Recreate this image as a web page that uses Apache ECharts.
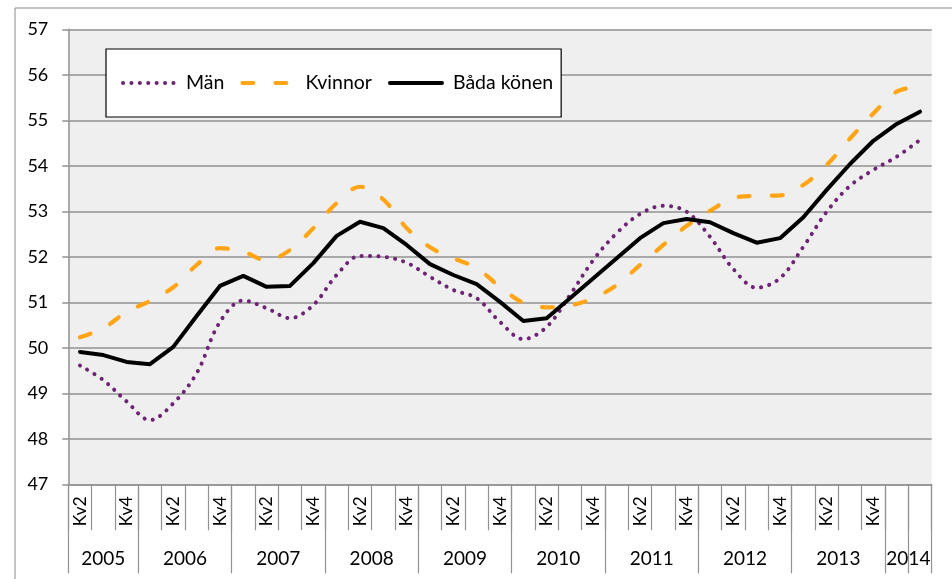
<!DOCTYPE html>
<html>
<head>
<meta charset="utf-8">
<script src="https://cdn.jsdelivr.net/npm/echarts@6/dist/echarts.min.js"></script>
<style>
html,body{margin:0;padding:0;background:#fff;}
#chart{width:952px;height:579px;}
</style>
</head>
<body>
<div id="chart"></div>
<script>
const categories = [
  '2005 Kv2','2005 Kv3','2005 Kv4',
  '2006 Kv1','2006 Kv2','2006 Kv3','2006 Kv4',
  '2007 Kv1','2007 Kv2','2007 Kv3','2007 Kv4',
  '2008 Kv1','2008 Kv2','2008 Kv3','2008 Kv4',
  '2009 Kv1','2009 Kv2','2009 Kv3','2009 Kv4',
  '2010 Kv1','2010 Kv2','2010 Kv3','2010 Kv4',
  '2011 Kv1','2011 Kv2','2011 Kv3','2011 Kv4',
  '2012 Kv1','2012 Kv2','2012 Kv3','2012 Kv4',
  '2013 Kv1','2013 Kv2','2013 Kv3','2013 Kv4',
  '2014 Kv1','2014 Kv2'
];
const shownQuarterLabels = ['Kv2','Kv4'];
const years = ['2005','2006','2007','2008','2009','2010','2011','2012','2013','2014'];
const yearQuarterCounts = [3,4,4,4,4,4,4,4,4,2];
const yTicks = [47,48,49,50,51,52,53,54,55,56,57];

const man = [49.61,49.29,48.82,48.41,48.78,49.44,50.57,51.04,50.87,50.65,
  50.94,51.60,52.02,52.00,51.87,51.56,51.27,51.09,50.57,50.19,
  50.46,51.16,51.93,52.52,52.94,53.12,52.99,52.44,51.73,51.32,
  51.53,52.22,52.99,53.56,53.91,54.20,54.57];
const kvinnor = [50.23,50.43,50.79,51.03,51.33,51.82,52.19,52.11,51.92,52.15,
  52.63,53.18,53.54,53.26,52.63,52.21,51.97,51.75,51.34,50.99,
  50.89,50.93,51.09,51.38,51.82,52.26,52.68,53.01,53.29,53.34,
  53.35,53.58,54.02,54.60,55.15,55.63,55.74];
const bada = [49.91,49.84,49.69,49.64,50.02,50.70,51.36,51.58,51.34,51.36,
  51.86,52.46,52.77,52.63,52.26,51.84,51.60,51.40,51.01,50.59,
  50.65,51.09,51.53,51.97,52.41,52.74,52.83,52.76,52.52,52.31,
  52.41,52.87,53.47,54.04,54.55,54.92,55.19];

// year boundaries and centres (in category units) for the year axis
const yearBounds = [0];
const yearCentres = [];
yearQuarterCounts.forEach((c) => {
  const start = yearBounds[yearBounds.length - 1];
  yearCentres.push(start + c / 2);
  yearBounds.push(start + c);
});
const yearTickValues = yearBounds.slice();
yearTickValues.splice(yearTickValues.length - 1, 0, categories.length - 1); // extra line inside 2014

const FONT = 'Lato';
const gridColor = '#929292';

const chart = echarts.init(document.getElementById('chart'), null, {renderer: 'canvas'});
chart.setOption({
  animation: false,
  backgroundColor: '#ffffff',
  textStyle: {fontFamily: FONT},
  graphic: [{
    type: 'rect', left: 12.5, top: 5.5, z: -10,
    shape: {width: 1000, height: 1000},
    style: {fill: 'none', stroke: '#8a8a8a', lineWidth: 1}
  }],
  grid: {
    left: 68.3, right: 20.3, top: 29.3, bottom: 94.7,
    show: true, backgroundColor: '#efefef', borderWidth: 0
  },
  legend: {
    left: 106, top: 49,
    orient: 'horizontal',
    itemWidth: 52, itemHeight: 14, itemGap: 16,
    padding: [24, 8, 24, 15],
    backgroundColor: '#ffffff',
    borderColor: '#000000', borderWidth: 1.2,
    itemStyle: {opacity: 0},
    lineStyle: {width: 4},
    textStyle: {fontFamily: FONT, fontSize: 19.5, color: '#000', padding: [0, 0, 0, 6]},
    data: ['Män', 'Kvinnor', 'Båda könen']
  },
  xAxis: [{
    type: 'category',
    data: categories,
    boundaryGap: true,
    position: 'bottom',
    axisLine: {show: true, lineStyle: {color: gridColor, width: 1.5}},
    axisTick: {show: true, interval: 0, length: 46, lineStyle: {color: gridColor, width: 1.2}},
    axisLabel: {
      interval: 0, rotate: 90, margin: 12,
      fontFamily: FONT, fontSize: 17.5, color: '#000',
      formatter: function (v, idx) {
        const q = v.split(' ')[1];
        if (idx === categories.length - 1) return '';
        return shownQuarterLabels.indexOf(q) >= 0 ? q : '';
      }
    },
    splitLine: {show: false}
  }, {
    type: 'value',
    min: 0, max: categories.length,
    position: 'bottom',
    axisLine: {show: false},
    axisTick: {show: true, length: 89, customValues: yearTickValues, lineStyle: {color: gridColor, width: 1.2}},
    axisLabel: {
      show: true, margin: 65, customValues: yearCentres,
      fontFamily: FONT, fontSize: 19, color: '#000',
      formatter: function (v) {
        const i = yearCentres.findIndex(c => Math.abs(c - v) < 1e-6);
        return i >= 0 ? years[i] : '';
      }
    },
    splitLine: {show: false}
  }],
  yAxis: {
    type: 'value',
    min: yTicks[0], max: yTicks[yTicks.length - 1], interval: 1,
    axisLine: {show: true, lineStyle: {color: gridColor, width: 1.5}},
    axisTick: {show: true, length: 6, lineStyle: {color: gridColor, width: 1.5}},
    axisLabel: {margin: 20, fontFamily: FONT, fontSize: 18, color: '#000'},
    splitLine: {show: true, lineStyle: {color: gridColor, width: 1.5}}
  },
  series: [{
    name: 'Män', type: 'line', data: man, xAxisIndex: 0,
    symbol: 'none', smooth: 0.35,
    itemStyle: {color: '#6e2474'},
    lineStyle: {color: '#6e2474', width: 4, type: [0.1, 8.3], cap: 'round', join: 'round'},
    z: 3
  }, {
    name: 'Kvinnor', type: 'line', data: kvinnor, xAxisIndex: 0,
    symbol: 'none', smooth: 0.35,
    itemStyle: {color: '#ffa516'},
    lineStyle: {color: '#ffa516', width: 4.2, type: [11, 22], cap: 'round', join: 'round'},
    z: 4
  }, {
    name: 'Båda könen', type: 'line', data: bada, xAxisIndex: 0,
    symbol: 'none', smooth: false,
    itemStyle: {color: '#000000'},
    lineStyle: {color: '#000000', width: 4, type: 'solid', cap: 'round', join: 'round'},
    z: 5
  }]
});
</script>
</body>
</html>
